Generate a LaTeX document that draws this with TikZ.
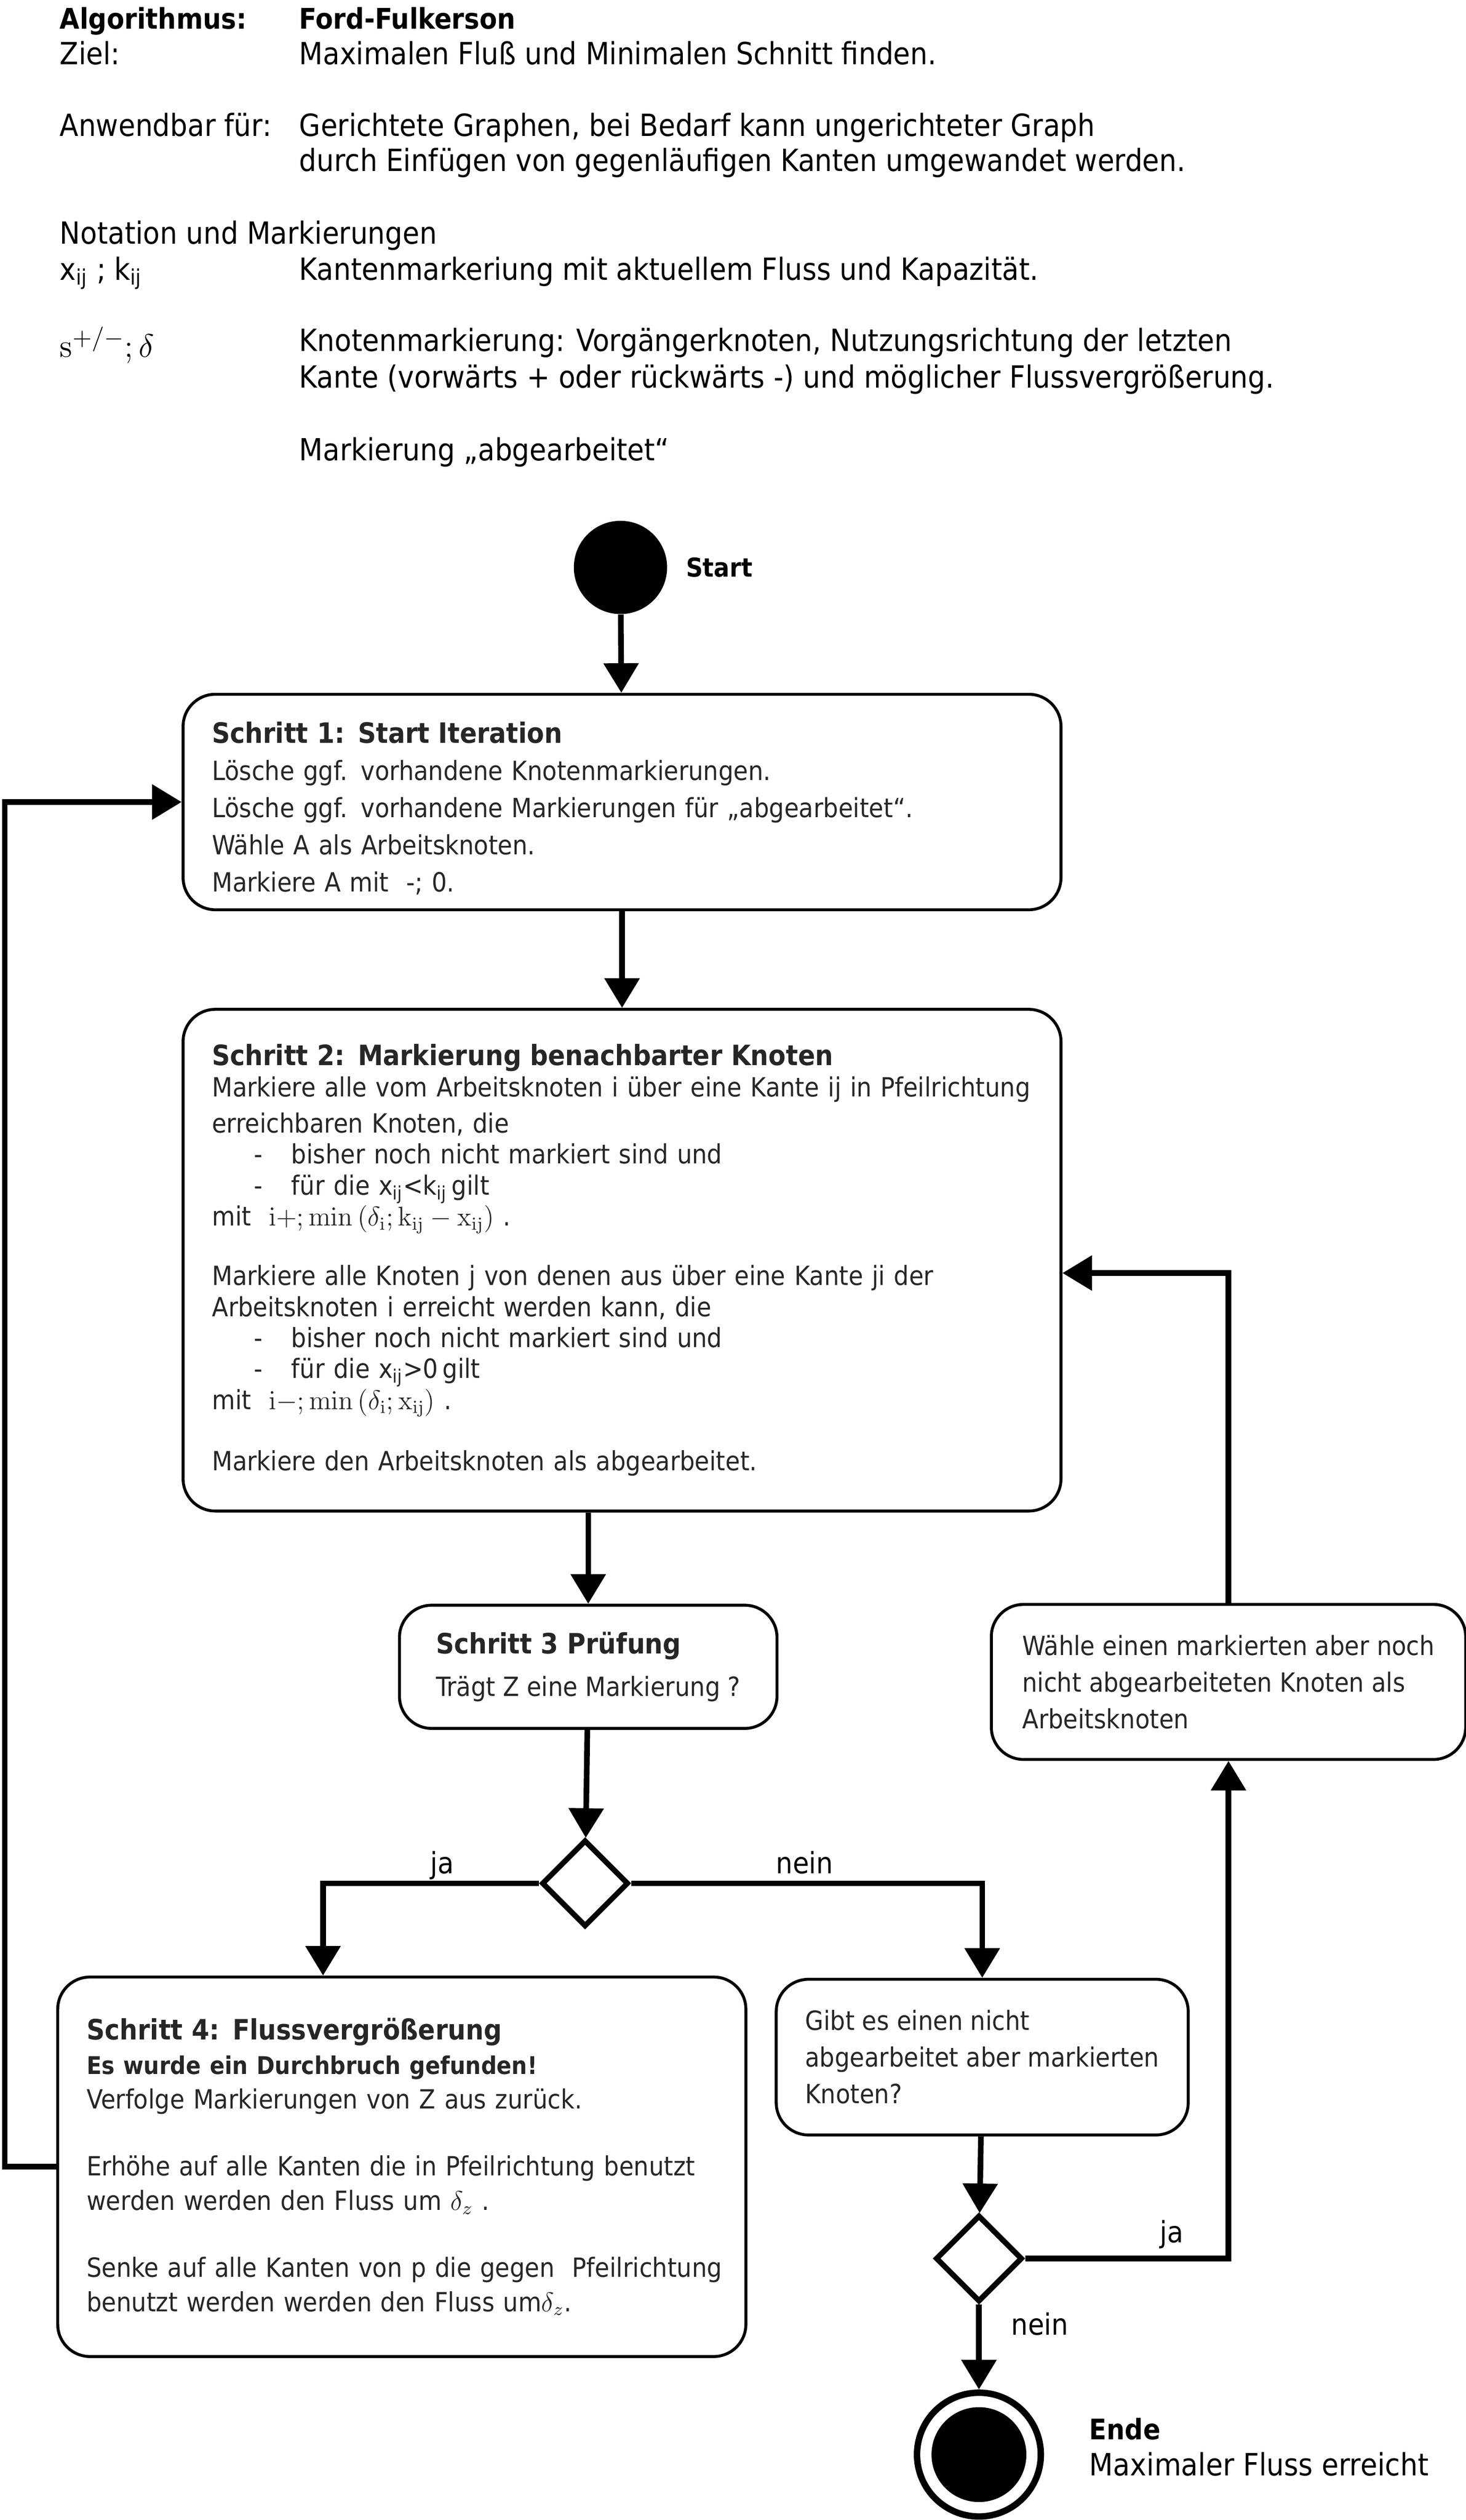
\documentclass[tikz,border=0pt]{standalone}
\usepackage[no-math]{fontspec}
\setmainfont{DejaVu Sans Condensed}
\usetikzlibrary{arrows.meta,shapes.geometric,positioning}

\newcommand{\titel}[1]{{\fontsize{12.4}{13}\selectfont\bfseries #1}}
\newcommand{\strich}{\hspace*{0.65cm}\makebox[0.585cm][l]{-}}
\newcommand{\formel}[1]{{\fontsize{12}{13}\selectfont$#1$}}

\begin{document}
\begin{tikzpicture}[x=0.025cm, y=-0.025cm,
    kasten/.style={rectangle, draw, line width=1.3pt, rounded corners=0.5cm, anchor=north west, align=left, inner xsep=0.45cm, text=black!85},
    raute/.style={diamond, draw, line width=2.4pt, minimum width=1.35cm, minimum height=1.35cm, inner sep=0pt},
    pfeil/.style={line width=2.5pt, -{Triangle[length=0.46cm,width=0.53cm]}},
    kopf/.style={anchor=base west, inner sep=0pt, font=\fontsize{13.5}{15}\selectfont},
    marke/.style={anchor=base, inner sep=0pt, font=\fontsize{13}{15}\selectfont}]

  \useasboundingbox (0,0) rectangle (912,1567.7);

  % Kopf mit Notation
  \node[kopf] (algo) at (37,18) {\fontsize{12.6}{14}\selectfont\bfseries Algorithmus:};
  \node[kopf] (algoname) at (186,18) {\fontsize{12.6}{14}\selectfont\bfseries Ford-Fulkerson};
  \node[kopf] (ziel) at (37,40.2) {Ziel:};
  \node[kopf] (zieltext) at (186,40.2) {Maximalen Fluß und Minimalen Schnitt finden.};
  \node[kopf] (anw) at (37,84.8) {Anwendbar für:};
  \node[kopf] (anwtext) at (186,84.8) {Gerichtete Graphen, bei Bedarf kann ungerichteter Graph};
  \node[kopf] (anwtext2) at (186,106.6) {durch Einfügen von gegenläufigen Kanten umgewandet werden.};
  \node[kopf] (notation) at (37,151.8) {Notation und Markierungen};
  \node[kopf] (kante) at (37,174.1) {x\textsubscript{ij} ; k\textsubscript{ij}};
  \node[kopf] (kantetext) at (186,174.1) {Kantenmarkeriung mit aktuellem Fluss und Kapazität.};
  \node[kopf] (knoten) at (37,222.3) {\fontsize{15.5}{17}\selectfont$\mathrm{s}^{+/-};\delta$};
  \node[kopf] (knotentext) at (186,218.5) {Knotenmarkierung: Vorgängerknoten, Nutzungsrichtung der letzten};
  \node[kopf] (knotentext2) at (186,241.2) {Kante (vorwärts + oder rückwärts -) und möglicher Flussvergrößerung.};
  \node[kopf] (fertig) at (186,286.4) {Markierung „abgearbeitet“};

  % Start und Ende
  \node[circle, fill, minimum size=1.45cm, inner sep=0pt] (start) at (386,353) {};
  \node[right=0.28cm of start, inner sep=0pt, font=\fontsize{11.5}{14}\selectfont\bfseries] (starttext) {Start};

  \node[circle, draw, line width=0.1cm, minimum size=1.925cm, inner sep=0pt] (ende) at (609,1527) {};
  \node[circle, fill, minimum size=1.475cm, inner sep=0pt] (endekern) at (ende) {};
  \node[anchor=base west, inner sep=0pt, font=\fontsize{12.5}{15}\selectfont\bfseries] (endetext) at (677.5,1517.6) {Ende};
  \node[anchor=base west, inner sep=0pt, font=\fontsize{13.6}{15}\selectfont] (endetext2) at (677.5,1540) {Maximaler Fluss erreicht};

  % Schritte
  \node[kasten, text width=12.75cm, minimum height=3.35cm, font=\fontsize{11.7}{16.4}\selectfont] (s1) at (113,431)
    {\rule{0pt}{15pt}\titel{Schritt 1: Start Iteration}\\
     Lösche ggf. vorhandene Knotenmarkierungen.\\
     Lösche ggf. vorhandene Markierungen für „abgearbeitet“.\\
     Wähle A als Arbeitsknoten.\\
     Markiere A mit \ -; 0.};
  \node[kasten, text width=12.75cm, minimum height=7.8cm, font=\fontsize{11.7}{13.7}\selectfont] (s2) at (113,627)
    {\titel{Schritt 2: Markierung benachbarter Knoten}\\
     Markiere alle vom Arbeitsknoten i über eine Kante ij in Pfeilrichtung\\[2.4pt]
     erreichbaren Knoten, die\\
     \strich bisher noch nicht markiert sind und\\
     \strich für die x\textsubscript{ij}<k\textsubscript{ij}\,gilt\\
     mit \ \formel{\mathrm{i}{+};\mathrm{min}\,(\delta_{\mathrm{i}};\mathrm{k}_{\mathrm{ij}}-\mathrm{x}_{\mathrm{ij}})} .\\[12.7pt]
     Markiere alle Knoten j von denen aus über eine Kante ji der\\
     Arbeitsknoten i erreicht werden kann, die\\
     \strich bisher noch nicht markiert sind und\\
     \strich für die x\textsubscript{ij}>0\,gilt\\
     mit \ \formel{\mathrm{i}{-};\mathrm{min}\,(\delta_{\mathrm{i}};\mathrm{x}_{\mathrm{ij}})} .\\[13.4pt]
     Markiere den Arbeitsknoten als abgearbeitet.};
  \node[kasten, minimum width=5.87cm, minimum height=1.915cm, font=\fontsize{11.7}{18.8}\selectfont] (s3) at (247.6,997.7)
    {\titel{Schritt 3 Prüfung}\\ Trägt Z eine Markierung ?};
  \node[kasten, text width=9.8cm, minimum height=5.9cm, font=\fontsize{11.7}{15.3}\selectfont] (s4) at (35,1229)
    {\titel{Schritt 4: Flussvergrößerung}\\
     {\fontsize{10.8}{13}\selectfont\bfseries Es wurde ein Durchbruch gefunden!}\\
     Verfolge Markierungen von Z aus zurück.\\[14.2pt]
     Erhöhe auf alle Kanten die in Pfeilrichtung benutzt\\
     werden werden den Fluss um \formel{\delta_z} .\\[14.2pt]
     \mbox{Senke auf alle Kanten von p die gegen \ Pfeilrichtung}\\
     benutzt werden werden den Fluss um\formel{\delta_z}.};
  \node[kasten, minimum width=6.34cm, minimum height=2.42cm, font=\fontsize{11.7}{16.2}\selectfont] (s5) at (482,1230.4)
    {Gibt es einen nicht\\ abgearbeitet aber markierten\\ Knoten?};
  \node[kasten, minimum width=7.375cm, minimum height=2.41cm, font=\fontsize{11.7}{16.2}\selectfont] (s6) at (615.8,997.2)
    {Wähle einen markierten aber noch\\ nicht abgearbeiteten Knoten als\\ Arbeitsknoten};

  % Entscheidungen
  \node[raute] (d1) at (364,1171.6) {};
  \node[raute] (d2) at (609,1405) {};

  % Verbindungen
  \draw[pfeil] (start) -- (s1);
  \draw[pfeil] (s1) -- (s2);
  \draw[pfeil] (s2.south -| s3.north) -- (s3.north);
  \draw[pfeil] (s3) -- (d1);
  \draw[pfeil] (d1.west) -| ([xshift=-1.225cm]s4.north) node[marke, pos=0.224, yshift=0.15cm] (ja1) {ja};
  \draw[pfeil] (d1.east) -| (s5.north) node[marke, pos=0.247, yshift=0.15cm] (nein1) {nein};
  \draw[pfeil] (s5) -- (d2);
  \draw[pfeil] (d2.east) -| (s6.south) node[marke, pos=0.36, yshift=0.25cm] (ja2) {ja};
  \draw[pfeil] (d2) -- (ende) node[marke, anchor=base west, pos=0.36, xshift=0.46cm] (nein2) {nein};
  \draw[pfeil] (s4.west) -- ++(-32,0) |- (s1.west);
  \draw[pfeil] (s6.north) |- ([yshift=-0.2cm]s2.east);

\end{tikzpicture}
\end{document}
